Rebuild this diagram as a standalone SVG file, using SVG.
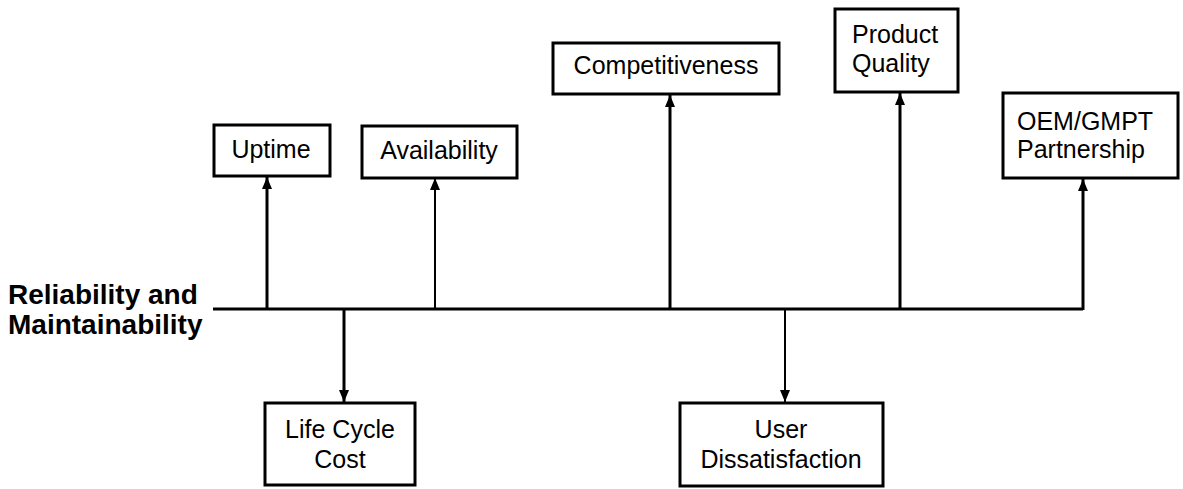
<svg xmlns="http://www.w3.org/2000/svg" width="1183" height="489" viewBox="0 0 1183 489">
<style>
.box{fill:#fff;stroke:#000;stroke-width:3}
.t{font-family:"Liberation Sans",Arial,sans-serif;font-size:25px;fill:#000}
.lbl{font-family:"Liberation Sans",Arial,sans-serif;font-size:28px;font-weight:bold;fill:#000}
.c{stroke:#000;stroke-width:3;fill:none}
.thin{stroke-width:2}
</style>
<defs>
<marker id="ah" viewBox="0 0 12 10" refX="12" refY="5" markerWidth="12" markerHeight="11" markerUnits="userSpaceOnUse" orient="auto">
<path d="M0,0 L12,5 L0,10 Z" fill="#000"/>
</marker>
</defs>
<g id="connectors">
<line class="c" x1="213" y1="309" x2="1083" y2="309"/>
<line class="c" x1="267" y1="309" x2="267" y2="177" marker-end="url(#ah)"/>
<line class="c thin" x1="435" y1="309" x2="435" y2="178" marker-end="url(#ah)"/>
<line class="c" x1="670" y1="309" x2="670" y2="95" marker-end="url(#ah)"/>
<line class="c" x1="900" y1="309" x2="900" y2="93" marker-end="url(#ah)"/>
<line class="c" x1="1083" y1="310" x2="1083" y2="179" marker-end="url(#ah)"/>
<line class="c" x1="344" y1="309" x2="344" y2="402" marker-end="url(#ah)"/>
<line class="c thin" x1="785" y1="309" x2="785" y2="402" marker-end="url(#ah)"/>
</g>
<g id="root">
<text class="lbl" x="8" y="304">Reliability and</text>
<text class="lbl" x="8" y="334">Maintainability</text>
</g>
<g id="uptime">
<rect class="box" x="214" y="125" width="116" height="51"/>
<text class="t" x="271" y="158" text-anchor="middle">Uptime</text>
</g>
<g id="availability">
<rect class="box" x="362" y="126" width="155" height="52"/>
<text class="t" x="439" y="159" text-anchor="middle">Availability</text>
</g>
<g id="competitiveness">
<rect class="box" x="553" y="43" width="226" height="51"/>
<text class="t" x="666" y="74" text-anchor="middle">Competitiveness</text>
</g>
<g id="product-quality">
<rect class="box" x="835" y="9" width="123" height="83"/>
<text class="t" x="852" y="43">Product</text>
<text class="t" x="852" y="72">Quality</text>
</g>
<g id="partnership">
<rect class="box" x="1003" y="93" width="175" height="85"/>
<text class="t" x="1017" y="130">OEM/GMPT</text>
<text class="t" x="1017" y="158">Partnership</text>
</g>
<g id="life-cycle-cost">
<rect class="box" x="265" y="403" width="150" height="82"/>
<text class="t" x="340" y="438" text-anchor="middle">Life Cycle</text>
<text class="t" x="340" y="468" text-anchor="middle">Cost</text>
</g>
<g id="user-dissatisfaction">
<rect class="box" x="680" y="403" width="203" height="83"/>
<text class="t" x="781" y="438" text-anchor="middle">User</text>
<text class="t" x="781" y="468" text-anchor="middle">Dissatisfaction</text>
</g>
</svg>
